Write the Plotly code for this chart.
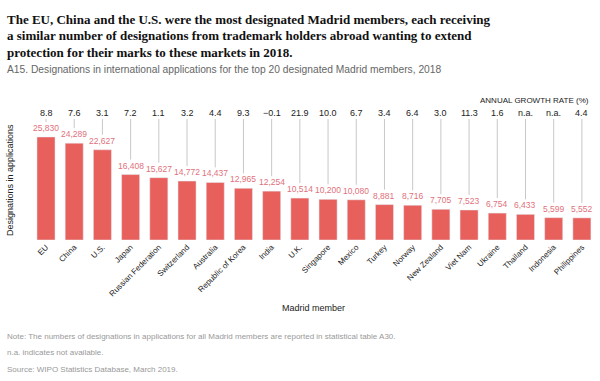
import plotly.graph_objects as go

members = ["EU", "China", "U.S.", "Japan", "Russian Federation", "Switzerland", "Australia",
           "Republic of Korea", "India", "U.K.", "Singapore", "Mexico", "Turkey", "Norway",
           "New Zealand", "Viet Nam", "Ukraine", "Thailand", "Indonesia", "Philippines"]
designations = [25830, 24289, 22627, 16408, 15627, 14772, 14437, 12965, 12254, 10514,
                10200, 10080, 8881, 8716, 7705, 7523, 6754, 6433, 5599, 5552]
growth = ["8.8", "7.6", "3.1", "7.2", "1.1", "3.2", "4.4", "9.3", "\u22120.1", "21.9",
          "10.0", "6.7", "3.4", "6.4", "3.0", "11.3", "1.6", "n.a.", "n.a.", "4.4"]

title_lines = ["The EU, China and the U.S. were the most designated Madrid members, each receiving",
               "a similar number of designations from trademark holders abroad wanting to extend",
               "protection for their marks to these markets in 2018."]
subtitle = "A15. Designations in international applications for the top 20 designated Madrid members, 2018"
notes = ["Note: The numbers of designations in applications for all Madrid members are reported in statistical table A30.",
         "n.a. indicates not available.",
         "Source: WIPO Statistics Database, March 2019."]

W, H = 600, 381
ML, MR, MT, MB = 31, 4, 95, 141
plot_w = W - ML - MR
plot_h = H - MT - MB
ymax = 36360
ppu = plot_h / ymax  # pixels per unit


def py(ypix):
    return (H - MB - ypix) / plot_h


def px(xpix):
    return (xpix - ML) / plot_w


BAR = "#e8605c"
LAB = "#e0717c"
FONT = "Arial"

fig = go.Figure()
fig.add_trace(go.Bar(x=members, y=designations, marker_color=BAR, width=0.64,
                     hoverinfo="x+y"))

shapes = []
annotations = []
line_top = (H - MB - 119) / ppu
for m, v, g in zip(members, designations, growth):
    annotations.append(dict(x=m, y=v, xref="x", yref="y", text=f"{v:,}", showarrow=False,
                            yshift=9, xanchor="center", yanchor="middle",
                            font=dict(family=FONT, size=8.5, color=LAB)))
    annotations.append(dict(x=m, y=py(113), xref="x", yref="paper", text=g, showarrow=False,
                            xanchor="center", yanchor="middle",
                            font=dict(family=FONT, size=9, color="#222")))
    shapes.append(dict(type="line", xref="x", yref="y", x0=m, x1=m,
                       y0=v + 15 / ppu, y1=line_top,
                       line=dict(color="#c8c8c8", width=1)))

annotations.append(dict(x=px(591), xref="paper", xanchor="right", y=py(100), yref="paper",
                        yanchor="middle", text="ANNUAL GROWTH RATE (%)", showarrow=False,
                        font=dict(family=FONT, size=8, color="#222")))

for i, t in enumerate(title_lines):
    annotations.append(dict(x=px(5), xref="paper", xanchor="left", y=py(19 + 16.5 * i), yref="paper",
                            yanchor="middle", text=f"<b>{t}</b>", showarrow=False,
                            font=dict(family="Liberation Serif", size=13, color="#111")))
annotations.append(dict(x=px(5), xref="paper", xanchor="left", y=py(69), yref="paper",
                        yanchor="middle", text=subtitle, showarrow=False,
                        font=dict(family=FONT, size=10.25, color="#666")))
for i, n in enumerate(notes):
    annotations.append(dict(x=px(5), xref="paper", xanchor="left", y=py(336 + 16.5 * i), yref="paper",
                            yanchor="middle", text=n, showarrow=False,
                            font=dict(family=FONT, size=8, color="#999")))

annotations.append(dict(x=px(313), xref="paper", xanchor="center", y=py(308), yref="paper",
                        yanchor="middle", text="Madrid member", showarrow=False,
                        font=dict(family=FONT, size=9, color="#222")))
annotations.append(dict(x=px(10), xref="paper", xanchor="center", y=py(180), yref="paper",
                        yanchor="middle", text="Designations in applications", textangle=-90,
                        showarrow=False, font=dict(family=FONT, size=9, color="#222")))

fig.update_layout(
    width=W, height=H,
    margin=dict(l=ML, r=MR, t=MT, b=MB),
    paper_bgcolor="white", plot_bgcolor="white",
    showlegend=False,
    xaxis=dict(tickangle=-45, tickfont=dict(family=FONT, size=8, color="#222"),
               showline=False, showgrid=False, ticks="", ticklen=0, automargin=False),
    yaxis=dict(range=[0, ymax], visible=False, showgrid=False),
    shapes=shapes,
    annotations=annotations,
)

fig.write_html("out.html", config={"displayModeBar": False},
               post_script="document.body.style.margin='0px';")
